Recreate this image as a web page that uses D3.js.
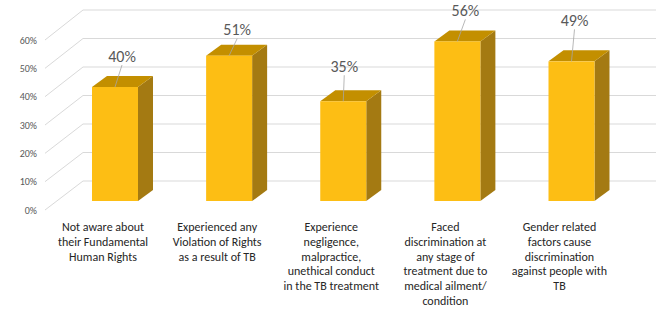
<!DOCTYPE html>
<html>
<head>
<meta charset="utf-8">
<script src="https://cdn.jsdelivr.net/npm/d3@7"></script>
<style>
  html, body { margin: 0; padding: 0; background: #fff; }
  svg { display: block; }
  text { font-family: Carlito, Calibri, "Liberation Sans Narrow", "Liberation Sans", sans-serif; }
</style>
</head>
<body>
<svg id="chart" width="660" height="311"></svg>
<script>
// ---- data ----
const categories = [
  ["Not aware about", "their Fundamental", "Human Rights"],
  ["Experienced any", "Violation of Rights", "as a result of TB"],
  ["Experience", "negligence,", "malpractice,", "unethical conduct", "in the TB treatment"],
  ["Faced", "discrimination at", "any stage of", "treatment due to", "medical ailment/", "condition"],
  ["Gender related", "factors cause", "discrimination", "against people with", "TB"]
];
const values = [40, 51, 35, 56, 49];
const yTicks = [0, 10, 20, 30, 40, 50, 60];
const tickLabels = ["0%", "10%", "20%", "30%", "40%", "50%", "60%"];
// label placement nudges (layout, not data)
const labelNudge = [[7, -31], [8, -26], [1, -35], [8, -31], [3, -41]];

// ---- layout ----
const svg = d3.select("#chart");
const frontBase = 210, backBase = 181, barBase = 201;
const depthDX = 38;           // floor depth offset (x)
const axisX = 45, wallX = 83, wallRight = 656;
const barW = 46, barDX = 15, barDY = 11;

const h = d3.scaleLinear().domain([0, 60]).range([0, 171]);
const x = d3.scalePoint().domain(d3.range(values.length)).range([115, 571.5]);

const colFront = "#FDBE14", colTop = "#C38F00", colSide = "#A47A12";
const gridCol = "#D9D9D9";

// grid: back wall lines + diagonals to front
const grid = svg.append("g");
yTicks.forEach(t => {
  const yb = backBase - h(t);
  const yf = frontBase - h(t) * (170 / 171);
  grid.append("line").attr("x1", wallX).attr("x2", wallRight)
    .attr("y1", yb).attr("y2", yb)
    .attr("stroke", gridCol).attr("stroke-width", 1);
  grid.append("line").attr("x1", axisX).attr("y1", yf)
    .attr("x2", wallX).attr("y2", yb)
    .attr("stroke", gridCol).attr("stroke-width", 1);
});

// y tick labels
svg.append("g").selectAll("text").data(yTicks).join("text")
  .attr("x", 37).attr("y", (d) => frontBase - h(d) * (170 / 171) + 3.5)
  .attr("text-anchor", "end").attr("font-size", 10).attr("fill", "#595959")
  .text((d, i) => tickLabels[i]);

// bars
const bars = svg.append("g").selectAll("g").data(values).join("g");
bars.each(function(v, i) {
  const g = d3.select(this);
  const cx = x(i), x0 = cx - barW / 2, x1 = cx + barW / 2;
  const yt = barBase - h(v);
  // side
  g.append("path").attr("d",
    `M${x1},${barBase} L${x1 + barDX},${barBase - barDY} L${x1 + barDX},${yt - barDY} L${x1},${yt} Z`)
    .attr("fill", colSide);
  // top
  g.append("path").attr("d",
    `M${x0},${yt} L${x0 + barDX},${yt - barDY} L${x1 + barDX},${yt - barDY} L${x1},${yt} Z`)
    .attr("fill", colTop);
  // front
  g.append("rect").attr("x", x0).attr("y", yt).attr("width", barW).attr("height", h(v))
    .attr("fill", colFront);
});

// data labels with leader lines
values.forEach((v, i) => {
  const cx = x(i), yt = barBase - h(v);
  const lx = cx + labelNudge[i][0], ly = yt + labelNudge[i][1];
  svg.append("line").attr("x1", lx).attr("y1", ly + 9)
    .attr("x2", cx).attr("y2", yt)
    .attr("stroke", "#A6A6A6").attr("stroke-width", 0.8);
  svg.append("text").attr("x", lx).attr("y", ly + 5.5)
    .attr("text-anchor", "middle").attr("font-size", 16).attr("fill", "#595959")
    .text(v + "%");
});

// category labels
categories.forEach((lines, i) => {
  const t = svg.append("text").attr("text-anchor", "middle")
    .attr("font-size", 12).attr("fill", "#262626");
  lines.forEach((ln, j) => {
    t.append("tspan").attr("x", x(i) - 12).attr("y", 231 + j * 14.8).text(ln);
  });
});
</script>
</body>
</html>
